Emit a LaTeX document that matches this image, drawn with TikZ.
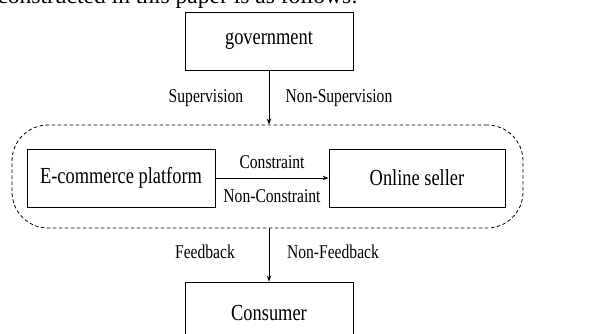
\documentclass[tikz,border=0pt]{standalone}
\usepackage{fontspec}
\setmainfont{Liberation Serif}
\newfontfamily\narrowf[FakeStretch=0.8]{Liberation Serif}
\usetikzlibrary{arrows.meta}
\begin{document}
\begin{tikzpicture}[x=1pt,y=1pt,
  box/.style={draw,line width=0.9pt,inner sep=0pt,font=\narrowf\fontsize{23}{26}\selectfont},
  lbl/.style={inner sep=0pt,font=\narrowf\fontsize{19.5}{22}\selectfont},
  arr/.style={line width=0.9pt,-{Stealth[length=6pt,width=4.5pt]}},
  grpbox/.style={draw,dashed,dash pattern=on 3.5pt off 2.5pt,line width=0.8pt,rounded corners=36pt,inner sep=0pt}]
\useasboundingbox (0,0) rectangle (594,333);
\clip (0,0) rectangle (594,333);
\node[anchor=base east,inner sep=0pt,font=\fontsize{23.5}{26}\selectfont] (intro) at (358,329) {constructed in this paper is as follows:};
\node[box,minimum width=168pt,minimum height=58pt] (gov) at (269,292) {government};
\node[grpbox,minimum width=511pt,minimum height=103pt] (grp) at (267.5,156.5) {};
\node[box,minimum width=188pt,minimum height=58pt] (ecom) at (121,155) {E-commerce platform};
\node[box,minimum width=176pt,minimum height=58pt] (seller) at (417,155) {Online seller};
\node[box,minimum width=168pt,minimum height=62pt] (cons) at (269,20) {Consumer};
\draw[arr] (gov.south) -- (gov.south |- grp.north);
\draw[arr] (ecom.east) -- (seller.west);
\draw[arr] (grp.south -| cons.north) -- (cons.north);
\node[lbl] (sup) at (206,235) {Supervision};
\node[lbl] (nsup) at (339,235) {Non-Supervision};
\node[lbl] (con) at (272,171) {Constraint};
\node[lbl] (ncon) at (272,137) {Non-Constraint};
\node[lbl] (fb) at (205,81) {Feedback};
\node[lbl] (nfb) at (333,81) {Non-Feedback};
\end{tikzpicture}
\end{document}
